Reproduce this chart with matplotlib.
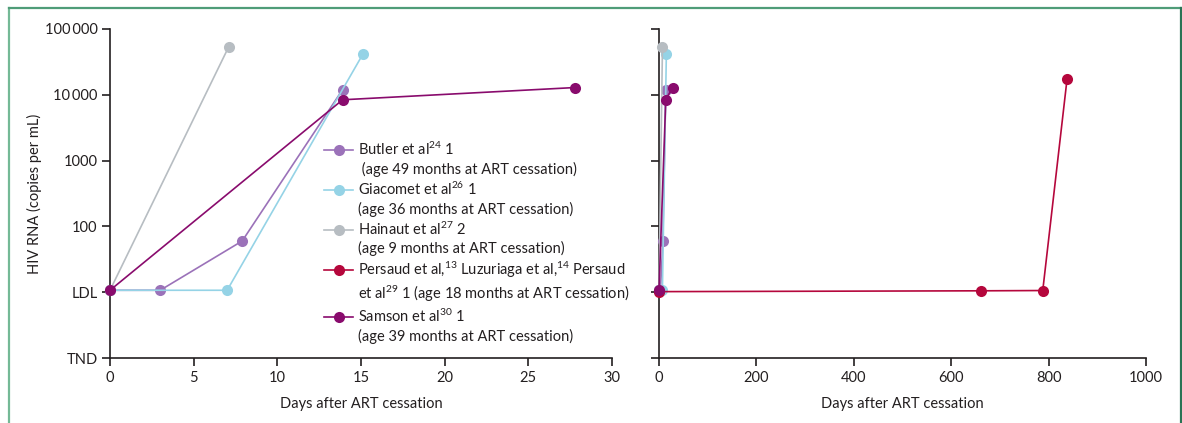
import numpy as np
import matplotlib
matplotlib.use("Agg")
import matplotlib.pyplot as plt
from matplotlib.lines import Line2D

plt.rcParams['font.family'] = ['Lato', 'DejaVu Sans']
plt.rcParams['mathtext.fontset'] = 'custom'
plt.rcParams['mathtext.rm'] = 'Lato'
plt.rcParams['mathtext.it'] = 'Lato'
plt.rcParams['mathtext.default'] = 'regular'

# days after ART cessation / HIV RNA copies per mL (LDL ~ 10, TND = 1)
butler_days = [0, 3, 7.9, 13.9]
butler_vl = [10.7, 10.7, 60, 12000]
giacomet_days = [0, 7.0, 15.1]
giacomet_vl = [10.7, 10.7, 41000]
hainaut_days = [0, 7.1]
hainaut_vl = [10.7, 54000]
persaud_days = [0, 662, 788, 838]
persaud_vl = [10.2, 10.5, 10.6, 17600]
samson_days = [0, 13.9, 27.8]
samson_vl = [10.7, 8400, 12900]

labels = [
    ('Butler et al$^{24}$ 1', ' (age 49 months at ART cessation)'),
    ('Giacomet et al$^{26}$ 1', '(age 36 months at ART cessation)'),
    ('Hainaut et al$^{27}$ 2', '(age 9 months at ART cessation)'),
    ('Persaud et al,$^{13}$ Luzuriaga et al,$^{14}$ Persaud',
     'et al$^{29}$ 1 (age 18 months at ART cessation)'),
    ('Samson et al$^{30}$ 1', '(age 39 months at ART cessation)'),
]
colors = ['#9b72b9', '#95d3e6', '#b7bdc2', '#b5073c', '#890b6d']

ytick_vals = [1, 10, 100, 1000, 10000, 100000]
ytick_labels = ['TND', 'LDL', '100', '1000', '10\u2009000', '100\u2009000']

series = [(butler_days, butler_vl), (giacomet_days, giacomet_vl),
          (hainaut_days, hainaut_vl), (persaud_days, persaud_vl),
          (samson_days, samson_vl)]

fig = plt.figure(figsize=(11.82, 4.23), dpi=100)
W, H = 1182, 423
ax1 = fig.add_axes([110 / W, 1 - 358 / H, 502 / W, 329 / H])
ax2 = fig.add_axes([659 / W, 1 - 358 / H, 487 / W, 329 / H])

tc = '#231f20'
for i, (d, v) in enumerate(series):
    kw = dict(color=colors[i], lw=1.2, marker='o', ms=8, mew=0, clip_on=False, zorder=3 + i)
    if i != 3:
        ax1.plot(d, v, **kw)
    ax2.plot(d, v, **kw)

for ax, xmax, xt in [(ax1, 30, np.arange(0, 31, 5)), (ax2, 1000, np.arange(0, 1001, 200))]:
    ax.set_yscale('log')
    ax.set_ylim(1, 100000)
    ax.set_xlim(0, xmax)
    ax.set_yticks(ytick_vals)
    ax.yaxis.set_minor_locator(matplotlib.ticker.NullLocator())
    ax.set_xticks(xt)
    ax.spines['top'].set_visible(False)
    ax.spines['right'].set_visible(False)
    for s in ['left', 'bottom']:
        ax.spines[s].set_linewidth(1.2)
        ax.spines[s].set_color(tc)
    ax.tick_params(direction='out', length=6, width=1.2, color=tc, labelcolor=tc,
                   labelsize=10.5, pad=3)
    ax.set_xlabel('Days after ART cessation', fontsize=10.5, color=tc, labelpad=9)

ax1.set_yticklabels(ytick_labels)
ax2.set_yticklabels([''] * len(ytick_vals))
ax1.set_ylabel('HIV RNA (copies per mL)', fontsize=10.5, color=tc, labelpad=2)

handles = []
texts = []
for i, (l1, l2) in enumerate(labels):
    handles.append(Line2D([], [], color=colors[i], lw=1.2, marker='o', ms=8, mew=0))
    texts.append(l1)
    handles.append(Line2D([], [], color='none', lw=0))
    texts.append(l2)
fig.legend(handles, texts, loc='upper left', bbox_to_anchor=(324 / W, 1 - 141 / H),
           frameon=False, fontsize=10.5, handlelength=2.0, handletextpad=0.3,
           labelspacing=0.25, borderpad=0, borderaxespad=0, labelcolor=tc)

# green frame around the figure
fig.add_artist(Line2D([9.5 / W, 9.5 / W], [0, 1 - 8.5 / H], color='#74b996', lw=1.6))
fig.add_artist(Line2D([9.5 / W, 1180.5 / W], [1 - 8.5 / H, 1 - 8.5 / H], color='#4f9c78', lw=1.6))
fig.add_artist(Line2D([1180.5 / W, 1180.5 / W], [0, 1 - 8.5 / H], color='#2a7455', lw=1.6))

fig.savefig('out.png', dpi=100)
